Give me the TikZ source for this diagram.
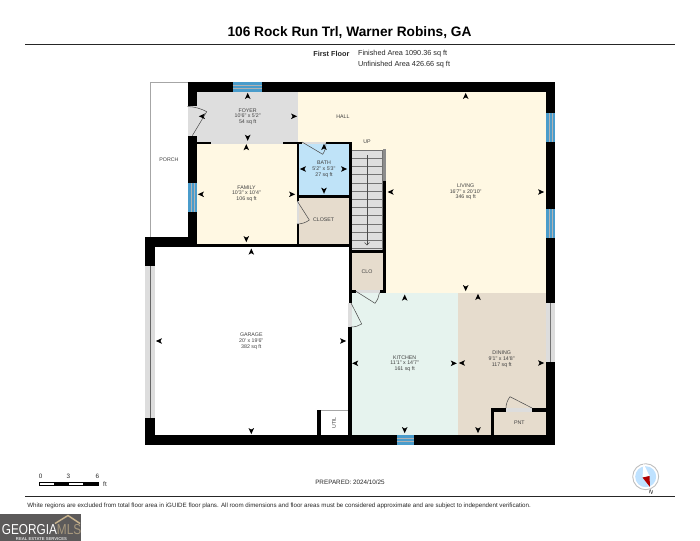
\documentclass[tikz,border=0pt]{standalone}
\usepackage{fontspec}
\newfontfamily\plansf{Liberation Sans}
\usetikzlibrary{positioning}
\usetikzlibrary{calc}
\tikzstyle{every node}=[font=\plansf,inner sep=0pt]
\tikzstyle{every path}=[line cap=butt,line join=miter]
\tikzstyle{roomlabel}=[align=center,text=black!75,font=\plansf\fontsize{3}{3.25}\selectfont]
\tikzstyle{swing}=[line width=0.3pt,draw=black!70]
\tikzstyle{thinline}=[line width=0.5pt,draw=black!35]
\tikzstyle{infolabel}=[text=black!85,font=\plansf\fontsize{4.15}{5}\selectfont]
\tikzstyle{scalelabel}=[text=black!85,font=\plansf\fontsize{3.6}{4.5}\selectfont]
\begin{document}
\begin{tikzpicture}[x=0.02cm,y=-0.02cm]
 \definecolor{creamfill}{HTML}{FFF8E3}
 \definecolor{foyerfill}{HTML}{DEDEDE}
 \definecolor{bathfill}{HTML}{BFE3F8}
 \definecolor{tanfill}{HTML}{E6DCCD}
 \definecolor{kitchenfill}{HTML}{E6F3EE}
 \definecolor{windowblue}{HTML}{4A9CCB}
 \definecolor{opening}{HTML}{DDDDDD}
 \definecolor{logogray}{HTML}{5C5A5A}
 \definecolor{logogold}{HTML}{C9B48E}
 \useasboundingbox (0,0) rectangle (700,541);

% header
\node (title) at (349.5,32.5) {\fontsize{7.8}{10}\selectfont\bfseries 106 Rock Run Trl, Warner Robins, GA};
\draw [line width=0.8pt,draw=black!85] (25,44.7) -- (675,44.7);
\node [infolabel,anchor=east] (floor) at (349.7,54) {\bfseries First Floor};
\node [infolabel,anchor=west] (finished) at (357.7,54) {Finished Area 1090.36 sq ft};
\node [infolabel,anchor=west] (unfinished) at (357.7,65) {Unfinished Area 426.66 sq ft};

% room fills
\fill [foyerfill] (197,92) rectangle (298,142.5);
\fill [creamfill] (298,92) -- (546,92) -- (546,293) -- (385,293) -- (385,150) -- (351,150) -- (351,142) -- (298,142) -- cycle;
\fill [creamfill] (197,142) rectangle (298,244);
\fill [bathfill] (298,142) rectangle (350,196);
\fill [tanfill] (298,196) rectangle (350,244);
\fill [tanfill] (351,252) rectangle (384,291);
\fill [kitchenfill] (350,292.7) rectangle (458,436);
\fill [tanfill] (458,292.7) rectangle (546,436);

% porch and garage outlines
\draw [thinline] (187.7,82.3) -- (150.5,82.3) -- (150.5,237);
\draw [thinline] (321,410) -- (348,410);
\draw [thinline] (155,435) -- (318,435);

% outer walls
\fill (187.7,82) rectangle (555,92);
\fill (545.7,82) rectangle (555,303);
\fill (545.7,362) rectangle (555,445);
\fill (145.3,435) rectangle (555,445);
\fill (187.7,82) rectangle (197,106);
\fill (187.7,136) rectangle (197,243);
\fill (145.3,237) rectangle (197,247);
\fill (145.3,237) rectangle (155,266);
\fill (145.3,418) rectangle (155,445);

% inner walls
\fill (197,243.5) rectangle (351,247);
\fill (197,141.5) rectangle (211,143.5);
\fill (283,141.5) rectangle (302,143.5);
\fill (326,141.5) rectangle (351,143.5);
\fill (297,141.5) rectangle (299,201);
\fill (297,224) rectangle (299,247);
\fill (348.8,141.5) rectangle (351.5,303);
\fill (298,195) rectangle (351,197.5);
\fill (348,327) rectangle (351.5,435);
\fill (351,250) rectangle (385.6,253);
\fill (382.9,181) rectangle (385.6,293);
\fill (351,290) rectangle (355.5,293);
\fill (380,290) rectangle (385.6,293);
\fill (490.7,408) rectangle (494,435);
\fill (490.7,408) rectangle (506,411.7);
\fill (532,408) rectangle (546,411.7);
\fill (317.3,410) rectangle (321,435);

% stairs
\fill [black!13] (351.5,150) rectangle (382.8,250);
\foreach \y in {150,158.2,...,250}
 \draw [line width=0.3pt,draw=black!55] (351.5,\y) -- (382.8,\y);
\draw [line width=0.4pt,draw=black!55] (351.5,150) -- (382.8,150) -- (382.8,250);
\fill [black!45] (382.9,149) rectangle (386,181);
\draw [line width=0.3pt,draw=black!70] (367,155) -- (367,245);
\draw [line width=0.3pt,draw=black!70] (364.5,242.5) -- (367,245) -- (369.5,242.5);

% openings
\fill [opening] (187.7,106) rectangle (197,136);
\fill [opening] (211,141.5) rectangle (283,143.5);
\fill [opening] (302,141.5) rectangle (326,143.5);
\fill [opening] (297,201) rectangle (299,224);
\fill [opening] (355.5,290) rectangle (380,293);
\fill [opening] (348,303) rectangle (351.5,327);
\fill [opening] (506,408) rectangle (532,411.7);
\fill [opening] (145.3,266) rectangle (155,418);
\fill [opening] (546,303) rectangle (555,362);
\draw [line width=0.7pt,draw=black!60] (150.7,266) -- (150.7,418);
\draw [line width=0.5pt,draw=black!55] (550.7,303) -- (550.7,362);

% windows
\foreach \a/\b/\c/\d in {232.7/82/261.7/92,396.7/435/414/445,545.7/113.3/555/142.3,545.7/209.3/555/238.3,187.7/183/197/212}
 {
 \fill [windowblue] (\a,\b) rectangle (\c,\d);
 }
\draw [line width=0.25pt,draw=black!30] (232.7,85.3) -- (261.7,85.3) (232.7,88.6) -- (261.7,88.6);
\draw [line width=0.25pt,draw=black!30] (396.7,438.3) -- (414,438.3) (396.7,441.6) -- (414,441.6);
\draw [line width=0.25pt,draw=black!30] (549,113.3) -- (549,142.3) (552,113.3) -- (552,142.3);
\draw [line width=0.25pt,draw=black!30] (549,209.3) -- (549,238.3) (552,209.3) -- (552,238.3);
\draw [line width=0.25pt,draw=black!30] (191,183) -- (191,212) (194,183) -- (194,212);

% door swings
\draw [swing] (192.3,135.7) -- (206.7,111.7) .. controls (201,108.5) and (194.5,106.8) .. (187.7,106.5);
\draw [swing] (302,142) -- (322.7,154.3) .. controls (325,151) and (326,147) .. (326,143);
\draw [swing] (297,200.7) -- (309.3,220) .. controls (306,222.5) and (302,224) .. (297,224);
\draw [swing] (355.5,291) -- (375,303.3) .. controls (377.5,300) and (379,296.5) .. (379.5,292.7);
\draw [swing] (351,303) -- (361.7,324) .. controls (358.5,326) and (355,327) .. (351,327);
\draw [swing] (532,408) -- (510,396.7) .. controls (507.5,400) and (506,404) .. (506,408);

% dimension ticks
\foreach \x/\y/\r in {247.7/96/90,294/116.3/0,247.7/137.7/-90,202/116.3/180,
 246.3/147.3/90,201/194.3/180,292/194.3/0,246.3/239/-90,
 324/147/90,303/169/180,344/169/0,324/190.6/-90,
 251.3/251.7/90,159/341/180,343/341/0,251.3/431/-90,
 465.7/96/90,390.7/192/180,541/192/0,465.7/288/-90,
 404.7/297.7/90,355.3/363.3/180,453.7/363.3/0,404.7/430/-90,
 478/297/90,462/363/180,541/363/0,478/430/-90}
 {
 \fill [shift={(\x,\y)},rotate=\r] (3.2,0) -- (-3,2.8) -- (-1.4,0) -- (-3,-2.8) -- cycle;
 }

% room labels
\node [roomlabel] (foyer) at (247.7,116.5) {FOYER\\10'6" x 5'2"\\54 sq ft};
\node [roomlabel] (hall) at (343,116.3) {HALL};
\node [roomlabel] (up) at (367,142) {UP};
\node [roomlabel] (porch) at (169,159.5) {PORCH};
\node [roomlabel] (bath) at (324,169.3) {BATH\\5'2" x 5'3"\\27 sq ft};
\node [roomlabel] (family) at (246.5,193.5) {FAMILY\\10'3" x 10'4"\\106 sq ft};
\node [roomlabel] (closet) at (323.6,220) {CLOSET};
\node [roomlabel] (clo) at (367,271.7) {CLO};
\node [roomlabel] (living) at (465.7,191.8) {LIVING\\16'7" x 20'10"\\346 sq ft};
\node [roomlabel] (garage) at (251.3,341.2) {GARAGE\\20' x 19'6"\\382 sq ft};
\node [roomlabel] (kitchen) at (404.7,363.5) {KITCHEN\\11'1" x 14'7"\\161 sq ft};
\node [roomlabel] (dining) at (501.7,359.2) {DINING\\9'1" x 14'8"\\117 sq ft};
\node [roomlabel] (pnt) at (519.3,423) {PNT};
\node [roomlabel,rotate=90] (util) at (334,423) {UTIL};

% scale bar
\node [scalelabel] (zero) at (40.7,476) {0};
\node [scalelabel] (three) at (68.5,476) {3};
\node [scalelabel] (six) at (97.3,476) {6};
\node [scalelabel] (feet) at (105,484) {ft};
\draw [line width=0.35pt,fill=white] (39.3,482.3) rectangle (98.3,485.7);
\fill (53.5,482.3) rectangle (68.7,485.7);
\fill (82.7,482.3) rectangle (98.3,485.7);

\node [scalelabel] (prepared) at (350,482) {PREPARED: 2024/10/25};

% compass
\draw [line width=0.5pt,draw=black!25,fill=white] (645.7,476.7) circle (13);
\fill [blue!45!cyan!25] (645.7,476.7) circle (10.5);
\fill [white] (643.5,463.5) -- (649.5,476) -- (642.5,477.5) -- cycle;
\fill [red!70!black] (649.5,476) -- (650,487) -- (642.5,477.5) -- cycle;
\node [rotate=-15,font=\plansf\fontsize{3.2}{4}\selectfont] (north) at (651.2,492) {N};

% footer
\draw [line width=0.8pt,draw=black!85] (25,496.7) -- (675,496.7);
\node [anchor=west,text=black!85,font=\plansf\fontsize{3.52}{4}\selectfont] (notice) at (27,505.7) {White regions are excluded from total floor area in iGUIDE floor plans. All room dimensions and floor areas must be considered approximate and are subject to independent verification.};

% logo
\fill [logogray] (0,514.3) rectangle (81,541);
\draw [line width=0.8pt,draw=logogold] (55,523.5) -- (68,515.5) -- (80,523.5);
\node [anchor=west,text=white,font=\plansf\fontsize{8.2}{9}\selectfont] (georgia) at (1.5,530) {\scalebox{0.82}[1]{GEORGIA\textcolor{logogold!70!logogray}{MLS}}};
\node [text=white!80!logogray,font=\plansf\bfseries\fontsize{2.4}{3}\selectfont] (services) at (41.5,538.7) {REAL ESTATE SERVICES};
\end{tikzpicture}
\end{document}
